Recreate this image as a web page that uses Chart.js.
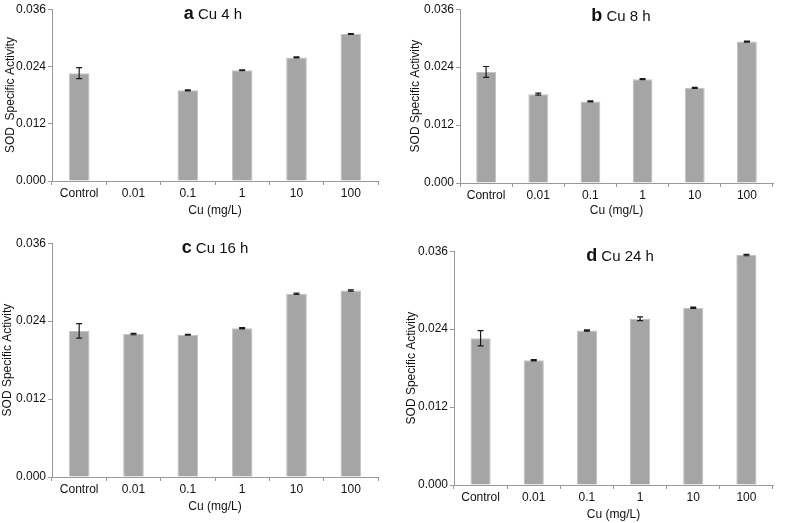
<!DOCTYPE html>
<html><head><meta charset="utf-8">
<script src="https://cdn.jsdelivr.net/npm/chart.js@4/dist/chart.umd.min.js"></script>
<style>
html,body{margin:0;padding:0;background:#fff;}
body{width:786px;height:523px;position:relative;overflow:hidden;font-family:'Liberation Sans',Arial,sans-serif;}
canvas{position:absolute;}
.t{position:absolute;transform:translate(-50%,-50%);white-space:nowrap;font-size:15px;color:#111;line-height:1;}
.t b{font-size:18px;}
</style></head><body>
<canvas id="ca" width="393" height="218" style="left:0;top:0"></canvas>
<canvas id="cb" width="393" height="218" style="left:393px;top:0"></canvas>
<canvas id="cc" width="393" height="280" style="left:0;top:234px"></canvas>
<canvas id="cd" width="393" height="281" style="left:393px;top:242px"></canvas>
<div class="t" style="left:213px;top:13px"><b>a</b> Cu 4 h</div>
<div class="t" style="left:621px;top:15px"><b>b</b> Cu 8 h</div>
<div class="t" style="left:215px;top:247px"><b>c</b> Cu 16 h</div>
<div class="t" style="left:620px;top:255px"><b>d</b> Cu 24 h</div>
<script>
// ---- data ----
const categories = ['Control', '0.01', '0.1', '1', '10', '100'];
const yTickValues = [0, 0.012, 0.024, 0.036];
const cu4h = [0.0226, null, 0.0190, 0.0232, 0.0259, 0.0308];
const cu4hErr = [0.00115, null, 0.0001, 0.0001, 0.0001, 0.0001];
const cu8h = [0.0230, 0.0184, 0.0169, 0.0215, 0.0197, 0.0293];
const cu8hErr = [0.00113, 0.0002, 0.0001, 0.0001, 0.0001, 0.0001];
const cu16h = [0.0225, 0.0220, 0.0219, 0.0229, 0.0282, 0.0287];
const cu16hErr = [0.00112, 0.0001, 0.00005, 0.0001, 0.0001, 0.0001];
const cu24h = [0.0226, 0.0192, 0.0238, 0.0256, 0.0273, 0.0354];
const cu24hErr = [0.00117, 0.0001, 0.0001, 0.00028, 0.0001, 0.0001];
const yTitleA = 'SOD  Specific Activity';
const yTitle = 'SOD Specific Activity';
const xTitle = 'Cu (mg/L)';

const errorBars = {
  id: 'errorBars',
  afterDatasetsDraw(chart) {
    const ctx = chart.ctx, ys = chart.scales.y;
    const meta = chart.getDatasetMeta(0);
    const ds = chart.data.datasets[0];
    ctx.save();
    ctx.strokeStyle = '#1a1a1a';
    ctx.lineWidth = 1.2;
    meta.data.forEach((bar, i) => {
      const v = ds.data[i], e = ds.errors[i];
      if (v == null || e == null) return;
      const x = bar.x;
      const y1 = ys.getPixelForValue(v + e), y2 = ys.getPixelForValue(v - e);
      ctx.beginPath();
      ctx.moveTo(x, y1); ctx.lineTo(x, y2);
      ctx.moveTo(x - 3, y1); ctx.lineTo(x + 3, y1);
      ctx.moveTo(x - 3, y2); ctx.lineTo(x + 3, y2);
      ctx.stroke();
    });
    ctx.restore();
  }
};

function makeChart(id, values, errors, ytitle, L) {
  const font = { family: "'Liberation Sans', Arial, sans-serif", size: 12 };
  new Chart(document.getElementById(id), {
    type: 'bar',
    data: {
      labels: categories,
      datasets: [{
        data: values,
        errors: errors,
        backgroundColor: '#a5a5a5',
        borderColor: '#c2c2c2',
        borderWidth: 1,
        categoryPercentage: 1,
        barPercentage: 0.38
      }]
    },
    options: {
      responsive: false,
      animation: false,
      devicePixelRatio: 1,
      layout: { padding: { left: L.padLeft, right: L.padRight, top: 7, bottom: L.padBottom || 0 } },
      plugins: { legend: { display: false }, tooltip: { enabled: false }, title: { display: false } },
      scales: {
        x: {
          grid: { drawOnChartArea: false, drawTicks: true, tickLength: 4, color: '#999', offset: true },
          border: { color: '#999', width: 1 },
          ticks: { font: font, color: '#111', padding: 1, maxRotation: 0 },
          title: { display: true, text: xTitle, font: font, color: '#111', padding: 0 },
          afterFit: s => { s.height = L.xH; }
        },
        y: {
          min: 0, max: 0.036,
          grid: { drawOnChartArea: false, drawTicks: true, tickLength: 4, color: '#999' },
          border: { color: '#999', width: 1 },
          afterBuildTicks: s => { s.ticks = yTickValues.map(v => ({ value: v })); },
          ticks: { font: font, color: '#111', padding: 2, callback: v => Number(v).toFixed(3) },
          title: { display: true, text: ytitle, font: font, color: '#111', padding: { top: L.tPad, bottom: 0 } },
          afterFit: s => { s.width = L.yW; }
        }
      }
    },
    plugins: [errorBars]
  });
}

makeChart('ca', cu4h, cu4hErr, yTitleA, { padLeft: 0, padRight: 15, yW: 52, xH: 37, tPad: 3 });
makeChart('cb', cu8h, cu8hErr, yTitle, { padLeft: 12, padRight: 13, yW: 55, xH: 35, tPad: 3 });
makeChart('cc', cu16h, cu16hErr, yTitle, { padLeft: 0, padRight: 15, yW: 52, xH: 37, tPad: 0 });
makeChart('cd', cu24h, cu24hErr, yTitle, { padLeft: 8, padRight: 13, yW: 53, xH: 37, tPad: 3, padBottom: 1 });
</script>
</body></html>
